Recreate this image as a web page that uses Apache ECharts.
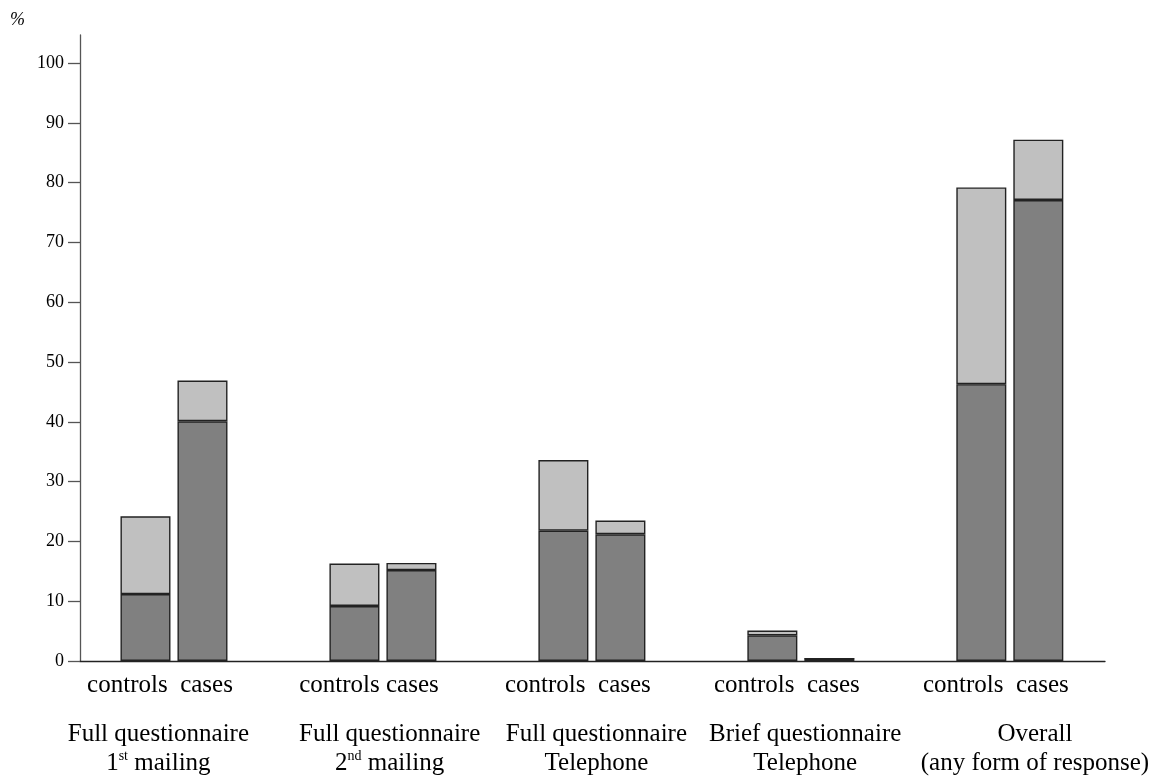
<!DOCTYPE html>
<html><head><meta charset="utf-8">
<script src="https://cdn.jsdelivr.net/npm/echarts@6/dist/echarts.min.js"></script>
<style>html,body{margin:0;padding:0;background:#fff}#c{width:1152px;height:778px}</style>
</head><body><div id="c"></div>
<script>
// ---- data ----
const groupLabels = [
  'Full questionnaire\n1{sup|st} mailing',
  'Full questionnaire\n2{sup|nd} mailing',
  'Full questionnaire\nTelephone',
  'Brief questionnaire\nTelephone',
  'Overall\n(any form of response)'
];
const pairLabels = ['controls  cases', 'controls cases', 'controls  cases', 'controls  cases', 'controls  cases'];
const controlsDark = [11.2, 9.2, 21.8, 4.3, 46.3];
const controlsLight = [13.0, 7.1, 11.8, 0.8, 32.9];
const casesDark = [40.1, 15.2, 21.2, 0.4, 77.1];
const casesLight = [6.8, 1.2, 2.3, 0, 10.1];
const yTicks = [0, 10, 20, 30, 40, 50, 60, 70, 80, 90, 100];
const yMax = 104.7;

// ---- styling ----
const FONT = 'Liberation Serif';
const labelShift = [-15.6, 6.7, 4.5, 4.3, 25.1];
const DARK = '#808080', LIGHT = '#c0c0c0', EDGE = '#222';

function bar(name, stack, data, color) {
  return {
    name, type: 'bar', stack, data, xAxisIndex: 0, yAxisIndex: 0,
    barWidth: 50, barGap: '14%',
    itemStyle: { color, borderColor: EDGE, borderWidth: 1.4 },
    emphasis: { disabled: true }, animation: false
  };
}

const chart = echarts.init(document.getElementById('c'), null, { renderer: 'canvas' });
chart.setOption({
  animation: false,
  backgroundColor: '#fff',
  textStyle: { fontFamily: FONT, color: '#000' },
  grid: [
    { left: 69.5, right: 36.5, top: 35, bottom: 117 },
    { left: 80, right: 47, top: 35, bottom: 117 }
  ],
  xAxis: [
    {
      gridIndex: 0, type: 'category', data: groupLabels.map((g, i) => 'g' + i), position: 'bottom',
      axisLine: { show: false }, axisTick: { show: false },
      axisLabel: {
        interval: 0, margin: 12, fontFamily: FONT, fontSize: 25, color: '#000',
        padding: [0, 28, 0, 0],
        formatter: (v, i) => pairLabels[i]
      }
    },
    {
      gridIndex: 1, type: 'category', data: [''], position: 'bottom',
      axisLine: { show: true, lineStyle: { color: EDGE, width: 1.3 } },
      axisTick: { show: false }, axisLabel: { show: false }
    },
    {
      gridIndex: 0, type: 'category', position: 'bottom',
      data: groupLabels.map((g, i) => ({
        value: g,
        textStyle: { padding: labelShift[i] >= 0 ? [0, 0, 0, 2 * labelShift[i]] : [0, -2 * labelShift[i], 0, 0] }
      })),
      axisLine: { show: false }, axisTick: { show: false },
      axisLabel: {
        interval: 0, margin: 59, fontFamily: FONT, fontSize: 25, color: '#000', lineHeight: 29,
        rich: { sup: { fontFamily: FONT, fontSize: 14, color: '#000', verticalAlign: 'top', lineHeight: 29 } }
      }
    }
  ],
  yAxis: [
    { gridIndex: 0, type: 'value', min: 0, max: yMax, show: false, splitLine: { show: false } },
    {
      gridIndex: 1, type: 'value', min: 0, max: yMax,
      name: '%', nameLocation: 'end', nameGap: 6,
      nameTextStyle: { fontFamily: FONT, fontSize: 18, fontStyle: 'italic', color: '#000', align: 'right', padding: [0, 55, 0, 0] },
      axisLine: { show: true, lineStyle: { color: '#555', width: 1.3 } },
      axisTick: { show: true, inside: false, length: 12, customValues: yTicks, lineStyle: { color: '#555', width: 1.3 } },
      axisLabel: { margin: 16, fontFamily: FONT, fontSize: 18, color: '#000', customValues: yTicks },
      splitLine: { show: false }
    }
  ],
  series: [
    bar('controls first', 'controls', controlsDark, DARK),
    bar('controls later', 'controls', controlsLight, LIGHT),
    bar('cases first', 'cases', casesDark, DARK),
    bar('cases later', 'cases', casesLight, LIGHT)
  ]
});
</script>
</body></html>
